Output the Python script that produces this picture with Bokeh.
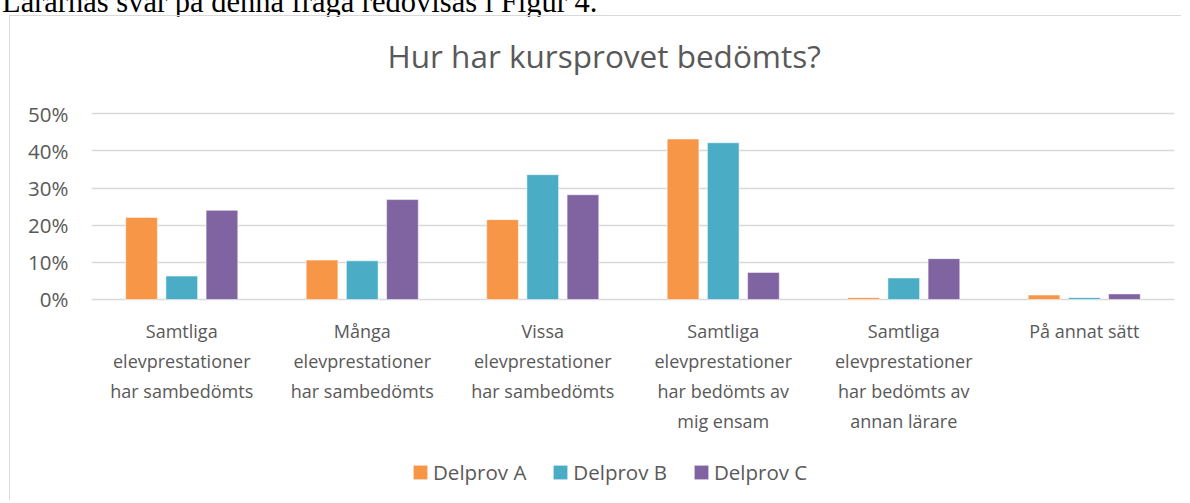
from bokeh.plotting import figure
from bokeh.models import (ColumnDataSource, FactorRange, Range1d, FixedTicker,
                          PrintfTickFormatter, Legend, LegendItem, Div)
from bokeh.layouts import column
from bokeh.transform import dodge
from bokeh.core.properties import value
from bokeh.embed import file_html
from bokeh.resources import INLINE

# ---- data ----
categories = [
    "Samtliga\nelevprestationer\nhar sambedömts",
    "Många\nelevprestationer\nhar sambedömts",
    "Vissa\nelevprestationer\nhar sambedömts",
    "Samtliga\nelevprestationer\nhar bedömts av\nmig ensam",
    "Samtliga\nelevprestationer\nhar bedömts av\nannan lärare",
    "På annat sätt",
]
delprov_a = [22.1, 10.6, 21.5, 43.2, 0.5, 1.2]
delprov_b = [6.3, 10.4, 33.6, 42.2, 5.8, 0.5]
delprov_c = [24.0, 26.9, 28.2, 7.3, 11.0, 1.5]
series_names = ["Delprov A", "Delprov B", "Delprov C"]
y_ticks = [0, 10, 20, 30, 40, 50]
title_text = "Hur har kursprovet bedömts?"
header_text = "Lärarnas svar på denna fråga redovisas i Figur 4."

colors = ["#F79646", "#4BACC6", "#8064A2"]
TEXT = "#595959"
FONT = "Open Sans"

src = ColumnDataSource(dict(cat=categories, a=delprov_a, b=delprov_b, c=delprov_c))

p = figure(width=1172, height=485,
           x_range=FactorRange(*categories, range_padding=0),
           y_range=Range1d(-54.39, 56.27),
           x_axis_location=None,
           output_backend="svg", toolbar_location=None,
           min_border_left=81, min_border_right=8,
           min_border_top=74, min_border_bottom=0)
p.margin = (0, 0, 0, 9)
p.styles = {"border-left": "1px solid #D9D9D9", "border-top": "1px solid #D9D9D9"}
p.outline_line_color = None
p.background_fill_color = "white"
p.border_fill_color = "white"

# title
p.title.text = title_text
p.title.text_font = FONT
p.title.text_font_size = "31.5px"
p.title.text_font_style = "normal"
p.title.text_color = TEXT
p.title.align = "left"
p.title.offset = 296
p.title.standoff = 27

off = 0.2227
wid = 0.1756
renderers = []
for col, o, c in zip(["a", "b", "c"], [-off, 0, off], colors):
    r = p.vbar(x=dodge("cat", o, range=p.x_range), top=col, bottom=0, width=wid,
               source=src, fill_color=c, line_color="white", line_alpha=0.5,
               line_width=1)
    renderers.append(r)

# category labels (under each group, placed by the categorical x scale)
p.text(x="cat", y=0, text="cat", source=src, y_offset=20,
       text_align="center", text_baseline="top", text_line_height=1.24,
       text_font=value(FONT), text_font_size="18px", text_color=TEXT)

# grid
p.xgrid.grid_line_color = None
p.ygrid.ticker = FixedTicker(ticks=y_ticks)
p.ygrid.grid_line_color = "#D9D9D9"
p.ygrid.grid_line_width = 1.5

# y axis
p.yaxis.ticker = FixedTicker(ticks=y_ticks)
p.yaxis.formatter = PrintfTickFormatter(format="%d%%")
p.yaxis.axis_line_color = None
p.yaxis.major_tick_line_color = None
p.yaxis.minor_tick_line_color = None
p.yaxis.major_tick_out = 0
p.yaxis.major_label_standoff = 23
p.yaxis.major_label_text_font = FONT
p.yaxis.major_label_text_font_size = "20.5px"
p.yaxis.major_label_text_color = TEXT

legend = Legend(items=[LegendItem(label=n, renderers=[r]) for n, r in zip(series_names, renderers)],
                orientation="horizontal", location=(320, 15),
                glyph_width=18, glyph_height=18, label_standoff=4, spacing=25,
                padding=0, margin=0, border_line_color=None, background_fill_alpha=0,
                label_text_font=FONT, label_text_font_size="20.5px", label_text_color=TEXT)
p.add_layout(legend)

header = Div(text=('<div style="margin-top:-21px; margin-left:2px; white-space:nowrap; '
                   'font-family:\'Liberation Serif\'; font-size:30.5px; line-height:30px; '
                   'color:#000">' + header_text + '</div>'),
             width=1180, height=15, margin=0)

layout = column(header, p, spacing=0)

open("out.html", "w").write(file_html(layout, INLINE))
